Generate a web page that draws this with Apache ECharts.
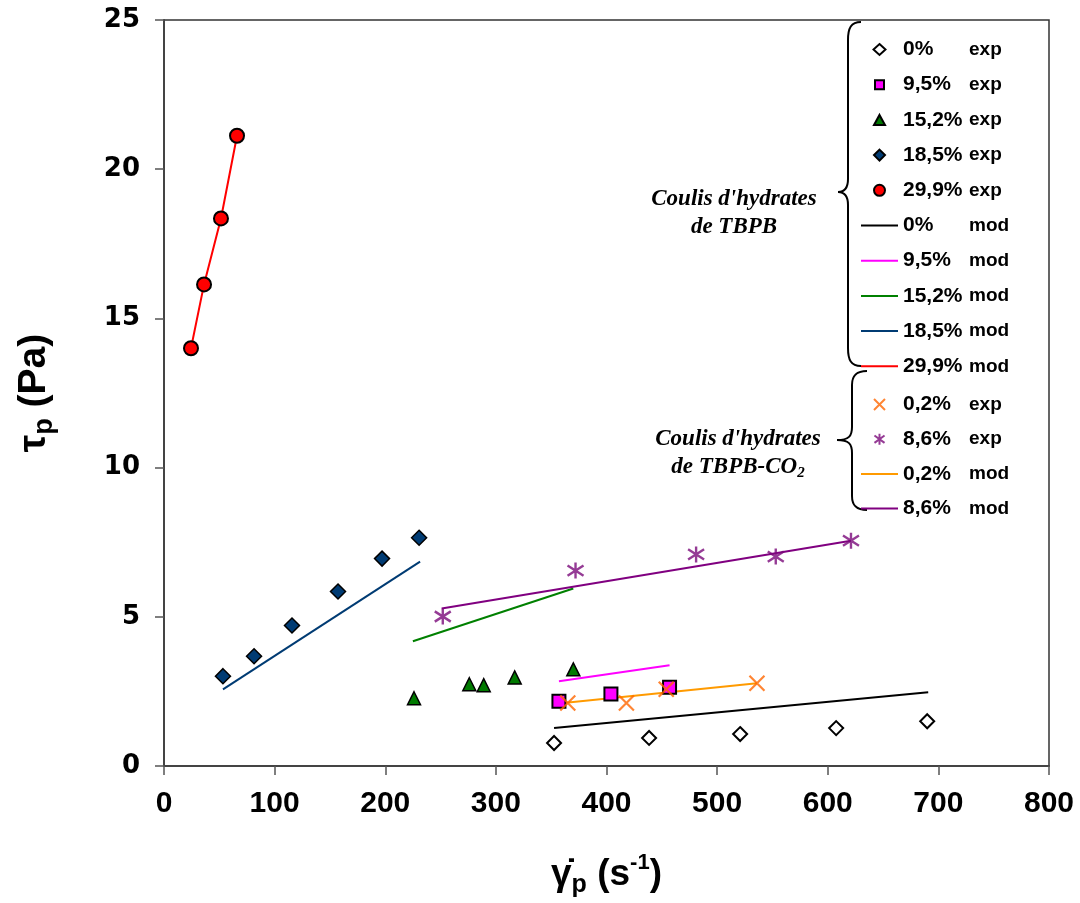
<!DOCTYPE html>
<html>
<head>
<meta charset="utf-8">
<script src="https://cdn.jsdelivr.net/npm/echarts@6/dist/echarts.min.js"></script>
<style>html,body{margin:0;padding:0;background:#fff}#c{width:1080px;height:903px}</style>
</head>
<body>
<div id="c"></div>
<script>
// ---- data (x: shear rate s^-1, y: stress Pa) ----
const xTicks = [0, 100, 200, 300, 400, 500, 600, 700, 800];
const yTicks = [0, 5, 10, 15, 20, 25];

// Coulis d'hydrates de TBPB - experimental
const exp00 = [[352.6, 0.77], [438.5, 0.94], [520.8, 1.07], [607.6, 1.27], [689.9, 1.50]];
const exp95 = [[357, 2.17], [404, 2.41], [457, 2.64]];
const exp152 = [[226, 2.27], [276, 2.74], [289, 2.71], [317, 2.97], [370, 3.24]];
const exp185 = [[53.3, 3.01], [81.4, 3.68], [115.7, 4.71], [157.3, 5.85], [197.1, 6.95], [230.6, 7.65]];
const exp299 = [[24.4, 14.0], [36.2, 16.14], [51.5, 18.35], [66.0, 21.12]];
// models
const mod00 = [[352.6, 1.27], [690.8, 2.47]];
const mod95 = [[357, 2.84], [457, 3.38]];
const mod152 = [[225, 4.18], [370, 5.95]];
const mod185 = [[53.3, 2.57], [231.5, 6.85]];
const mod299 = [[24.4, 14.0], [36.2, 16.14], [51.5, 18.35], [66.0, 21.12]];

// Coulis d'hydrates de TBPB-CO2
const exp02 = [[365, 2.11], [418, 2.11], [454, 2.57], [536, 2.77]];
const exp86 = [[252, 5.01], [372, 6.55], [481, 7.09], [553, 7.02], [621, 7.55]];
const mod02 = [[361, 2.11], [536, 2.77]];
const mod86 = [[251, 5.28], [621, 7.55]];

const labelsTop = ['0% exp', '9,5% exp', '15,2% exp', '18,5% exp', '29,9% exp',
                   '0% mod', '9,5% mod', '15,2% mod', '18,5% mod', '29,9% mod'];
const labelsBot = ['0,2% exp', '8,6% exp', '0,2% mod', '8,6% mod'];

const X_PATH = 'path://M0,0L10,10M10,0L0,10';
const AST_PATH = 'path://M5,0L5,10M0,1.8L10,8.2M10,1.8L0,8.2';

// legend icon shapes drawn inside a 37x11 box (box corners set by the two leading moves)
const BOX = 'path://M0,0M37,11';
const legendIcons = {
  '0% exp': BOX + 'M18.5,0L24.5,5.5L18.5,11L12.5,5.5Z',
  '9,5% exp': BOX + 'M14,1L23,1L23,10L14,10Z',
  '15,2% exp': BOX + 'M18.5,0.5L24,10.5L13,10.5Z',
  '18,5% exp': BOX + 'M18.5,-0.5L24.5,5.5L18.5,11.5L12.5,5.5Z',
  '29,9% exp': BOX + 'M13,5.5A5.5,5.5,0,1,1,24,5.5A5.5,5.5,0,1,1,13,5.5Z',
  '0,2% exp': BOX + 'M13,0L24,11M24,0L13,11',
  '8,6% exp': BOX + 'M18.5,-0.5L18.5,11.5M13,1.5L24,9.5M24,1.5L13,9.5',
  line: BOX + 'M0,4.5L37,4.5L37,6.5L0,6.5Z'
};

function sc(name, data, symbol, size, color, border, bw) {
  return {
    name, type: 'scatter', data, symbol, symbolSize: size, symbolKeepAspect: true, z: 5,
    itemStyle: { color, borderColor: border, borderWidth: bw, opacity: 1 }
  };
}
function ln(name, data, color) {
  return {
    name, type: 'line', data, symbol: 'none', showSymbol: false, z: 3,
    lineStyle: { color, width: 2 }, itemStyle: { color }
  };
}

const series = [
  sc('0% exp', exp00, 'diamond', 14, '#ffffff', '#000', 2),
  sc('9,5% exp', exp95, 'rect', 13, '#ff00ff', '#000', 2),
  sc('15,2% exp', exp152, 'triangle', 13, '#007a00', '#000', 1.5),
  sc('18,5% exp', exp185, 'diamond', 15, '#003b73', '#000', 1.5),
  sc('29,9% exp', exp299, 'circle', 14, '#ff0000', '#000', 2),
  ln('0% mod', mod00, '#000000'),
  ln('9,5% mod', mod95, '#ff00ff'),
  ln('15,2% mod', mod152, '#008000'),
  ln('18,5% mod', mod185, '#003b73'),
  ln('29,9% mod', mod299, '#ff0000'),
  {
    name: '0,2% exp', type: 'scatter', data: exp02, symbol: X_PATH, symbolSize: 15, symbolKeepAspect: true, z: 6,
    itemStyle: { color: 'transparent', borderColor: '#ff6600', borderWidth: 2.2 }
  },
  {
    name: '8,6% exp', type: 'scatter', data: exp86, symbol: AST_PATH, symbolSize: 16, symbolKeepAspect: true, z: 6,
    itemStyle: { color: 'transparent', borderColor: '#7a0a7a', borderWidth: 2.4 }
  },
  ln('0,2% mod', mod02, '#ff9a00'),
  ln('8,6% mod', mod86, '#800080')
];

const FONT = 'Liberation Sans, Arial, sans-serif';
const legendRich = {
  a: { fontFamily: FONT, fontWeight: 'bold', fontSize: 21, color: '#000', width: 66, lineHeight: 22 },
  b: { fontFamily: FONT, fontWeight: 'bold', fontSize: 19, color: '#000', lineHeight: 22 }
};
function legendFmt(n) {
  const p = n.split(' ');
  return '{a|' + p[0] + '}{b|' + p[1] + '}';
}
function legendData(list) {
  return list.map(n => ({ name: n, icon: n.indexOf('mod') >= 0 ? legendIcons.line : legendIcons[n] }));
}

// curly brace made of line / bezier pieces (decoration)
function brace(endX, spineX, tipX, top, mid, bottom, r) {
  const st = { stroke: '#000', lineWidth: 2, fill: 'none' };
  return [
    { type: 'bezierCurve', silent: true, shape: { x1: endX, y1: top, cpx1: spineX + 3, cpy1: top, cpx2: spineX, cpy2: top + 6, x2: spineX, y2: top + r }, style: st },
    { type: 'line', silent: true, shape: { x1: spineX, y1: top + r, x2: spineX, y2: mid - 13 }, style: st },
    { type: 'bezierCurve', silent: true, shape: { x1: spineX, y1: mid - 13, cpx1: spineX, cpy1: mid - 4, cpx2: spineX - 3, cpy2: mid, x2: tipX, y2: mid }, style: st },
    { type: 'bezierCurve', silent: true, shape: { x1: tipX, y1: mid, cpx1: spineX - 3, cpy1: mid, cpx2: spineX, cpy2: mid + 4, x2: spineX, y2: mid + 13 }, style: st },
    { type: 'line', silent: true, shape: { x1: spineX, y1: mid + 13, x2: spineX, y2: bottom - r }, style: st },
    { type: 'bezierCurve', silent: true, shape: { x1: spineX, y1: bottom - r, cpx1: spineX, cpy1: bottom - 6, cpx2: spineX + 3, cpy2: bottom, x2: endX, y2: bottom }, style: st }
  ];
}

const serifFont = 'italic bold 23px "Liberation Serif", "Times New Roman", serif';

const chart = echarts.init(document.getElementById('c'), null, { renderer: 'canvas' });
chart.setOption({
  backgroundColor: '#ffffff',
  animation: false,
  grid: { left: 164, right: 31, top: 20, bottom: 135, show: true, borderColor: '#333', borderWidth: 1.5, backgroundColor: 'transparent' },
  xAxis: {
    type: 'value', min: xTicks[0], max: xTicks[xTicks.length - 1], interval: 100,
    axisLine: { show: true, onZero: false, lineStyle: { color: '#444', width: 2 } },
    axisTick: { show: true, inside: false, length: 9, lineStyle: { color: '#555', width: 1.5 } },
    splitLine: { show: false },
    axisLabel: { margin: 23, fontFamily: FONT, fontWeight: 'bold', fontSize: 30, color: '#000' },
    name: '{t|γ̇}{s|p}{t| (s}{u|-1}{t|)}',
    nameLocation: 'middle', nameGap: 86,
    nameTextStyle: {
      rich: {
        t: { fontFamily: FONT, fontWeight: 'bold', fontSize: 37, color: '#000', lineHeight: 46, verticalAlign: 'middle' },
        s: { fontFamily: FONT, fontWeight: 'bold', fontSize: 25, color: '#000', lineHeight: 18, verticalAlign: 'bottom' },
        u: { fontFamily: FONT, fontWeight: 'bold', fontSize: 22, color: '#000', lineHeight: 18, verticalAlign: 'top' }
      }
    }
  },
  yAxis: {
    type: 'value', min: yTicks[0], max: yTicks[yTicks.length - 1], interval: 5,
    axisLine: { show: true, onZero: false, lineStyle: { color: '#444', width: 2 } },
    axisTick: { show: true, inside: false, length: 9, lineStyle: { color: '#555', width: 1.5 } },
    splitLine: { show: false },
    axisLabel: { margin: 24, fontFamily: 'DejaVu Sans, Liberation Sans, Arial', fontWeight: 'bold', fontSize: 26, color: '#000' },
    name: '{t|τ}{s|p}{t| (Pa)}',
    nameLocation: 'middle', nameGap: 106, nameRotate: 90,
    nameTextStyle: {
      rich: {
        t: { fontFamily: FONT, fontWeight: 'bold', fontSize: 39, color: '#000', lineHeight: 48, verticalAlign: 'middle' },
        s: { fontFamily: FONT, fontWeight: 'bold', fontSize: 27, color: '#000', lineHeight: 20, verticalAlign: 'bottom' }
      }
    }
  },
  legend: [
    {
      data: legendData(labelsTop), orient: 'vertical', left: 860, top: 39, padding: 0,
      itemWidth: 37, itemHeight: 11, itemGap: 14.2, selectedMode: false, symbolKeepAspect: true,
      formatter: legendFmt, textStyle: { rich: legendRich }
    },
    {
      data: legendData(labelsBot), orient: 'vertical', left: 860, top: 394, padding: 0,
      itemWidth: 37, itemHeight: 11, itemGap: 13.7, selectedMode: false, symbolKeepAspect: true,
      formatter: legendFmt, textStyle: { rich: legendRich }
    }
  ],
  graphic: [
    ...brace(861, 848, 838, 22, 192, 366, 18),
    ...brace(867, 852, 837, 371, 440, 510, 14),
    {
      type: 'text', silent: true, x: 734, y: 199,
      style: { text: "Coulis d'hydrates", fill: '#000', font: serifFont, align: 'center', verticalAlign: 'middle' }
    },
    {
      type: 'text', silent: true, x: 734, y: 227,
      style: { text: 'de TBPB', fill: '#000', font: serifFont, align: 'center', verticalAlign: 'middle' }
    },
    {
      type: 'text', silent: true, x: 738, y: 439,
      style: { text: "Coulis d'hydrates", fill: '#000', font: serifFont, align: 'center', verticalAlign: 'middle' }
    },
    {
      type: 'text', silent: true, x: 738, y: 467,
      style: {
        text: '{m|de TBPB-CO}{d|2}', align: 'center', verticalAlign: 'middle',
        rich: {
          m: { fill: '#000', fontFamily: 'Liberation Serif, Times New Roman, serif', fontStyle: 'italic', fontWeight: 'bold', fontSize: 23, lineHeight: 28, verticalAlign: 'middle' },
          d: { fill: '#000', fontFamily: 'Liberation Serif, Times New Roman, serif', fontStyle: 'italic', fontWeight: 'bold', fontSize: 15, lineHeight: 14, verticalAlign: 'bottom' }
        }
      }
    }
  ],
  series
});
</script>
</body>
</html>
